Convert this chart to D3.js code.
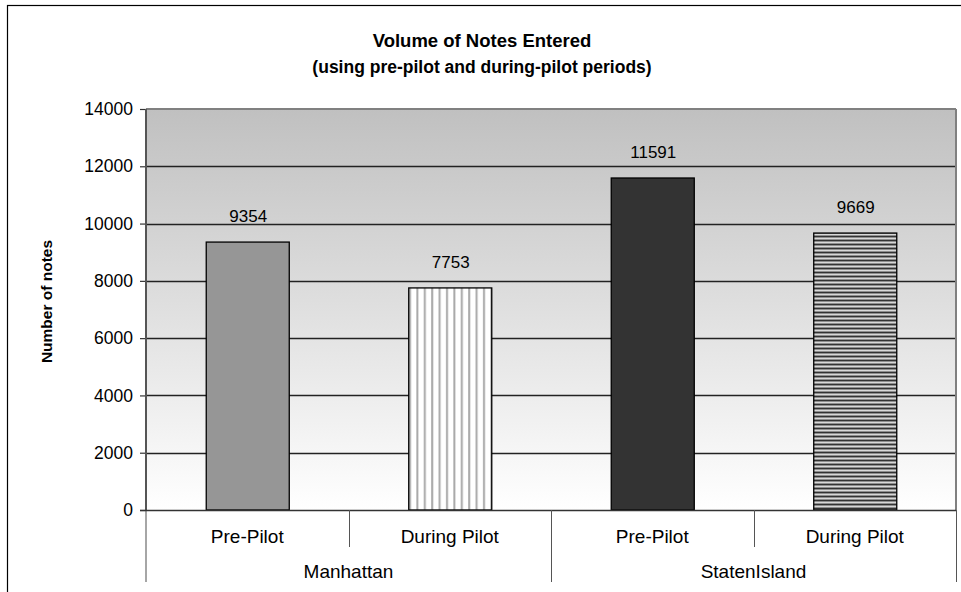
<!DOCTYPE html>
<html>
<head>
<meta charset="utf-8">
<script src="https://cdn.jsdelivr.net/npm/d3@7"></script>
<style>
  html, body { margin: 0; padding: 0; background: #fff; }
  svg { display: block; font-family: "Liberation Sans", Arial, sans-serif; }
</style>
</head>
<body>
<svg id="chart" width="961" height="592"></svg>
<script>
// ---- Data ----
const titleLines = ["Volume of Notes Entered", "(using pre-pilot and during-pilot periods)"];
const yAxisTitle = "Number of notes";
const groups = ["Manhattan", "StatenIsland"];
const periods = ["Pre-Pilot", "During Pilot"];
const values = [9354, 7753, 11591, 9669]; // Manhattan Pre, Manhattan During, Staten Pre, Staten During
const yTicks = [0, 2000, 4000, 6000, 8000, 10000, 12000, 14000];

// ---- Layout ----
const svg = d3.select("#chart");
const plot = { left: 146, right: 956, top: 109, bottom: 510 };

const items = [];
groups.forEach((g, gi) => periods.forEach((p, pi) => {
  items.push({ key: g + "|" + p, group: g, period: p, gi, pi, value: values[gi * periods.length + pi] });
}));

const x = d3.scaleBand().domain(items.map(d => d.key)).range([plot.left, plot.right]).paddingInner(0).paddingOuter(0);
const y = d3.scaleLinear().domain([0, 14000]).range([plot.bottom, plot.top]);

const defs = svg.append("defs");
const grad = defs.append("linearGradient").attr("id", "bg").attr("x1", 0).attr("y1", 0).attr("x2", 0).attr("y2", 1);
grad.append("stop").attr("offset", "0%").attr("stop-color", "#c0c0c0");
grad.append("stop").attr("offset", "100%").attr("stop-color", "#ffffff");

const pv = defs.append("pattern").attr("id", "vstripe").attr("patternUnits", "userSpaceOnUse")
  .attr("width", 7.4).attr("height", 10);
pv.append("rect").attr("width", 7.4).attr("height", 10).attr("fill", "#ffffff");
pv.append("rect").attr("x", 2).attr("width", 2).attr("height", 10).attr("fill", "#a8a8a8");

const ph = defs.append("pattern").attr("id", "hstripe").attr("patternUnits", "userSpaceOnUse")
  .attr("width", 10).attr("height", 4);
ph.append("rect").attr("width", 10).attr("height", 4).attr("fill", "#8e8e8e");
ph.append("rect").attr("y", 0).attr("width", 10).attr("height", 1).attr("fill", "#333333");
ph.append("rect").attr("y", 2).attr("width", 10).attr("height", 1).attr("fill", "#d8d8d8");

const fills = ["#969696", "url(#vstripe)", "#333333", "url(#hstripe)"];

// Outer border
svg.append("rect").attr("x", 7.5).attr("y", 5.5).attr("width", 1000).attr("height", 700)
  .attr("fill", "none").attr("stroke", "#000").attr("stroke-width", 1.2);

// Title
svg.append("text").attr("x", 482).attr("y", 47).attr("text-anchor", "middle")
  .attr("font-size", 18.5).attr("font-weight", "bold").text(titleLines[0]);
svg.append("text").attr("x", 482).attr("y", 73).attr("text-anchor", "middle")
  .attr("font-size", 17.5).attr("font-weight", "bold").text(titleLines[1]);

// Plot background
svg.append("rect").attr("x", plot.left).attr("y", plot.top)
  .attr("width", plot.right - plot.left).attr("height", plot.bottom - plot.top)
  .attr("fill", "url(#bg)");

// Gridlines
svg.append("g").selectAll("line").data(yTicks.filter(t => t > 0 && t < 14000)).join("line")
  .attr("x1", plot.left).attr("x2", plot.right)
  .attr("y1", d => Math.round(y(d)) + 0.5).attr("y2", d => Math.round(y(d)) + 0.5)
  .attr("stroke", "#222").attr("stroke-width", 1.3);

// Top and right plot border
svg.append("line").attr("x1", plot.left).attr("x2", plot.right).attr("y1", plot.top).attr("y2", plot.top)
  .attr("stroke", "#808080").attr("stroke-width", 2);
svg.append("line").attr("x1", plot.right).attr("x2", plot.right).attr("y1", plot.top).attr("y2", plot.bottom)
  .attr("stroke", "#808080").attr("stroke-width", 2);

// Bars
const barW = x.bandwidth() * 0.41;
svg.append("g").selectAll("rect").data(items).join("rect")
  .attr("x", d => x(d.key) + x.bandwidth() / 2 - barW / 2 + 0.5)
  .attr("y", d => y(d.value))
  .attr("width", barW)
  .attr("height", d => y(0) - y(d.value))
  .attr("fill", (d, i) => fills[i])
  .attr("stroke", "#000").attr("stroke-width", 1.3);

// Data labels
svg.append("g").selectAll("text").data(items).join("text")
  .attr("x", d => x(d.key) + x.bandwidth() / 2 + 1)
  .attr("y", d => y(d.value) - 20)
  .attr("text-anchor", "middle").attr("font-size", 17).attr("fill", "#000")
  .text(d => d.value);

// Y axis
const yAxis = d3.axisLeft(y).tickValues(yTicks).tickSize(6).tickPadding(7).tickFormat(d3.format("d"));
const gy = svg.append("g").attr("transform", `translate(${plot.left},0)`).call(yAxis);
gy.select(".domain").remove();
gy.selectAll(".tick line").attr("stroke", "#333").attr("stroke-width", 1.2);
gy.selectAll(".tick text").attr("font-size", 17.5).attr("fill", "#000")
  .attr("font-family", "'Liberation Sans', Arial, sans-serif");
svg.append("line").attr("x1", plot.left).attr("x2", plot.left).attr("y1", plot.top).attr("y2", plot.bottom)
  .attr("stroke", "#555").attr("stroke-width", 2);
svg.append("line").attr("x1", plot.left).attr("x2", plot.left).attr("y1", plot.bottom).attr("y2", 582)
  .attr("stroke", "#888").attr("stroke-width", 1.5);

// Y axis title
svg.append("text").attr("transform", `translate(52,${(plot.top + plot.bottom) / 2 - 8}) rotate(-90)`)
  .attr("text-anchor", "middle").attr("font-size", 15.5).attr("font-weight", "bold").text(yAxisTitle);

// Baseline
svg.append("line").attr("x1", plot.left - 6).attr("x2", plot.right).attr("y1", plot.bottom + 0.5).attr("y2", plot.bottom + 0.5)
  .attr("stroke", "#333").attr("stroke-width", 1.3);

// Category labels (periods)
svg.append("g").selectAll("text").data(items).join("text")
  .attr("x", d => x(d.key) + x.bandwidth() / 2)
  .attr("y", 543).attr("text-anchor", "middle").attr("font-size", 19).text(d => d.period);

// Sub-category dividers (within groups)
svg.append("g").selectAll("line").data(items.filter(d => d.pi > 0)).join("line")
  .attr("x1", d => Math.round(x(d.key)) + 0.5).attr("x2", d => Math.round(x(d.key)) + 0.5)
  .attr("y1", plot.bottom).attr("y2", 547).attr("stroke", "#555").attr("stroke-width", 1);

// Group dividers
const groupStarts = items.filter(d => d.pi === 0 && d.gi > 0).map(d => x(d.key)).concat([plot.right]);
svg.append("g").selectAll("line").data(groupStarts).join("line")
  .attr("x1", d => Math.round(d) + 0.5).attr("x2", d => Math.round(d) + 0.5)
  .attr("y1", plot.bottom).attr("y2", 582).attr("stroke", "#555").attr("stroke-width", 1);

// Group labels
svg.append("g").selectAll("text").data(groups).join("text")
  .attr("x", (g, gi) => {
    const ks = items.filter(d => d.gi === gi);
    return (x(ks[0].key) + x(ks[ks.length - 1].key) + x.bandwidth()) / 2;
  })
  .attr("y", 578).attr("text-anchor", "middle").attr("font-size", 19).text(g => g);
</script>
</body>
</html>
